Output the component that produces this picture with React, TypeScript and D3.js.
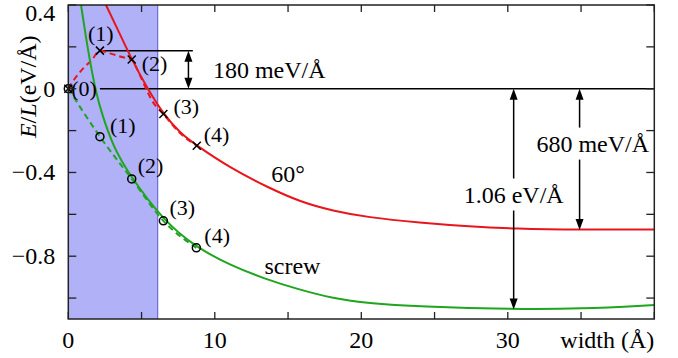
import * as d3 from "d3";

// solid curves (width in Å, energy in eV/Å)
const redX = [2.57, 3.46, 4.33, 5.39, 6.49, 7.63, 8.77, 11.11, 13.7, 15.82, 18.07, 20.39, 24.01, 27.42, 30.42, 34.93, 40];
const redY = [0.4, 0.271, 0.14, 0.002, -0.121, -0.212, -0.272, -0.381, -0.474, -0.54, -0.584, -0.614, -0.64, -0.658, -0.669, -0.674, -0.672];
const greenX = [0.87, 1.21, 1.55, 1.89, 2.28, 3.07, 4.1, 6.49, 8.77, 11.04, 13.31, 15.82, 18.07, 20.39, 24.01, 30.42, 34.93, 40];
const greenY = [0.4, 0.242, 0.104, -0.016, -0.118, -0.277, -0.404, -0.631, -0.76, -0.842, -0.906, -0.961, -1.001, -1.025, -1.041, -1.054, -1.052, -1.033];

// dashed curve through the 60° points
const redDashX = [0, 0.46, 1.02, 1.6, 2.16, 2.85, 3.75, 4.33, 4.78, 5.24, 5.69, 6.49, 7.63, 8.77];
const redDashY = [0, 0.05, 0.097, 0.137, 0.182, 0.169, 0.15, 0.14, 0.081, 0.01, -0.054, -0.121, -0.212, -0.272];

// computed points
const crossX = [0, 2.16, 4.33, 6.49, 8.77];
const crossY = [0, 0.182, 0.14, -0.121, -0.272];
const circleX = [0, 2.16, 4.33, 6.49, 8.74];
const circleY = [0, -0.229, -0.431, -0.631, -0.76];
const pointNames = ["(0)", "(1)", "(2)", "(3)", "(4)"];

const xTicks = [0, 5, 10, 15, 20, 25, 30, 35, 40];
const xLabelTicks = [0, 10, 20, 30];
const yTicks = [0.4, 0.2, 0, -0.2, -0.4, -0.6, -0.8, -1.0];
const yLabelTicks = [0.4, 0, -0.4, -0.8];

const shadeWidth = 6.1;
const barrier60 = 0.182;
const depth60 = -0.675;
const depthScrew = -1.055;

// label offsets in px: [dx from marker, dy of text centre]
const crossLabelOff = [[3, 0], [-12, -17], [10, 4], [10, -8], [7, -11]];
const circleLabelOff = [[0, 0], [10, -11], [6, -13], [6, -13], [8, -12]];

const W = 678;
const H = 358;
const RED = "#e8161c";
const GREEN = "#1fa51f";
const FONT = "'Liberation Serif', 'DejaVu Serif', serif";

export default function App() {
  const x = d3.scaleLinear().domain([0, 40]).range([68.3, 654.3]);
  const y = d3.scaleLinear().domain([-1.1, 0.4]).range([319, 5]);
  const [x0, x1] = x.range();
  const [y0, y1] = y.range();

  const smooth = d3
    .line<[number, number]>()
    .x((d) => x(d[0]))
    .y((d) => y(d[1]))
    .curve(d3.curveBasis);
  const thru = d3
    .line<[number, number]>()
    .x((d) => x(d[0]))
    .y((d) => y(d[1]))
    .curve(d3.curveMonotoneX);

  const zip = (a: number[], b: number[]) => a.map((v, i) => [v, b[i]] as [number, number]);

  // tip at (px, tip), base at (px, base)
  const head = (px: number, tip: number, base: number) =>
    `M${px},${tip} L${px - 4},${base} L${px + 4},${base} Z`;

  // vertical double arrow, optional gap for a label
  const vArrow = (xv: number, ya: number, yb: number, gap?: [number, number]) => {
    const px = x(xv);
    const pa = y(ya);
    const pb = y(yb);
    const segs = gap
      ? [
          [pa + 10, gap[0]],
          [gap[1], pb - 10],
        ]
      : [[pa + 10, pb - 10]];
    return (
      <g>
        {segs.map((s, i) => (
          <line key={i} x1={px} x2={px} y1={s[0]} y2={s[1]} stroke="#000" strokeWidth={1.5} />
        ))}
        <path d={head(px, pa, pa + 11)} fill="#000" />
        <path d={head(px, pb, pb - 11)} fill="#000" />
      </g>
    );
  };

  const cross = (cx: number, cy: number, key: number) => (
    <path
      key={"c" + key}
      d={`M${cx - 4},${cy - 4} L${cx + 4},${cy + 4} M${cx - 4},${cy + 4} L${cx + 4},${cy - 4}`}
      stroke="#000"
      strokeWidth={1.5}
      fill="none"
    />
  );

  const label106Y = y(-0.51);
  const label680Y = y(-0.262);
  const txt = { fontFamily: FONT };

  return (
    <svg width={W} height={H} style={{ position: "absolute", left: 0, top: 0, background: "#fff" }}>
      {/* shaded core region */}
      <rect x={x0} y={y1} width={x(shadeWidth) - x0} height={y0 - y1} fill="#b1b1f8" />
      <line x1={x(shadeWidth)} x2={x(shadeWidth)} y1={y1} y2={y0} stroke="#6b6bdc" strokeWidth={1.2} />

      {/* reference lines */}
      <line x1={x(crossX[1])} x2={x1} y1={y(0)} y2={y(0)} stroke="#000" strokeWidth={1.5} />
      <line x1={x(crossX[1])} x2={x(8.5)} y1={y(barrier60)} y2={y(barrier60)} stroke="#000" strokeWidth={1.5} />

      {/* dashed curves */}
      <path d={thru(zip(redDashX, redDashY)) ?? ""} fill="none" stroke={RED} strokeWidth={2} strokeDasharray="6,4" />
      <path d={thru(zip(circleX, circleY)) ?? ""} fill="none" stroke={GREEN} strokeWidth={2} strokeDasharray="6,4" />

      {/* solid curves */}
      <path d={smooth(zip(redX, redY)) ?? ""} fill="none" stroke={RED} strokeWidth={2} />
      <path d={smooth(zip(greenX, greenY)) ?? ""} fill="none" stroke={GREEN} strokeWidth={2} />

      {/* markers */}
      {circleX.map((v, i) => (
        <circle key={"o" + i} cx={x(v)} cy={y(circleY[i])} r={4} fill="none" stroke="#000" strokeWidth={1.5} />
      ))}
      {crossX.map((v, i) => cross(x(v), y(crossY[i]), i))}

      {/* point labels */}
      <g fontSize={22} dominantBaseline="central" style={txt}>
        {crossX.map((v, i) => (
          <text key={"cl" + i} x={x(v) + crossLabelOff[i][0]} y={y(crossY[i]) + crossLabelOff[i][1]}>
            {pointNames[i]}
          </text>
        ))}
        {circleX.map((v, i) =>
          i === 0 ? null : (
            <text key={"ol" + i} x={x(v) + circleLabelOff[i][0]} y={y(circleY[i]) + circleLabelOff[i][1]}>
              {pointNames[i]}
            </text>
          )
        )}
      </g>

      {/* annotations */}
      {vArrow(8.2, barrier60, 0)}
      {vArrow(30.4, 0, depthScrew, [label106Y - 17, label106Y + 15])}
      {vArrow(34.9, 0, depth60, [label680Y - 16, label680Y + 16])}

      <g fontSize={24} dominantBaseline="central" style={txt}>
        <text x={x(9.87)} y={y(0.088)}>180 meV/Å</text>
        <text x={x(30.4)} y={label106Y} textAnchor="middle">1.06 eV/Å</text>
        <text x={x(35.8)} y={label680Y} textAnchor="middle">680 meV/Å</text>
        <text x={x(15)} y={y(-0.405)} textAnchor="middle">60°</text>
        <text x={x(15.3)} y={y(-0.845)} textAnchor="middle">screw</text>
      </g>

      {/* frame and ticks */}
      <rect x={x0} y={y1} width={x1 - x0} height={y0 - y1} fill="none" stroke="#222" strokeWidth={1.5} />
      {xTicks.map((t) => (
        <g key={"xt" + t} stroke="#222" strokeWidth={1.3}>
          <line x1={x(t)} x2={x(t)} y1={y0} y2={y0 - 7} />
          <line x1={x(t)} x2={x(t)} y1={y1} y2={y1 + 7} />
        </g>
      ))}
      {yTicks.map((t) => (
        <g key={"yt" + t} stroke="#222" strokeWidth={1.3}>
          <line x1={x0} x2={x0 + 8} y1={y(t)} y2={y(t)} />
          <line x1={x1} x2={x1 - 8} y1={y(t)} y2={y(t)} />
        </g>
      ))}

      <g fontSize={24} style={txt}>
        {xLabelTicks.map((t) => (
          <text key={"xl" + t} x={x(t)} y={348} textAnchor="middle">
            {t}
          </text>
        ))}
        <text x={x1} y={348} textAnchor="end">width (Å)</text>
        {yLabelTicks.map((t) => (
          <text
            key={"yl" + t}
            x={x0 - 13}
            y={Math.max(y(t), 12.5)}
            textAnchor="end"
            dominantBaseline="central"
          >
            {t === 0 ? "0" : d3.format(".1f")(t).replace("-", "−")}
          </text>
        ))}
        <text transform={`translate(28,${y(0) - 2}) rotate(-90)`} textAnchor="middle" dominantBaseline="central">
          <tspan fontStyle="italic">E</tspan>
          <tspan>/</tspan>
          <tspan fontStyle="italic">L</tspan>
          <tspan>(eV/Å)</tspan>
        </text>
      </g>
    </svg>
  );
}
